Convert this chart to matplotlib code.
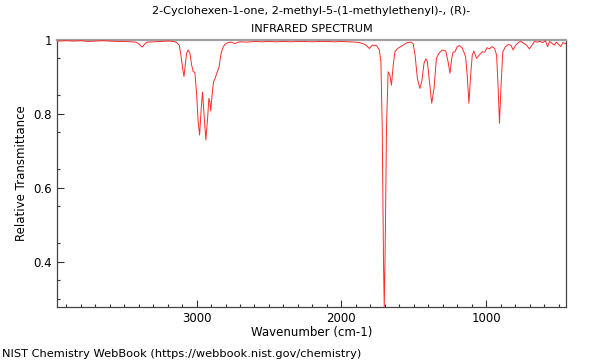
import matplotlib
matplotlib.use("Agg")
import matplotlib.pyplot as plt
from matplotlib.ticker import MultipleLocator, FixedLocator, FormatStrFormatter

title = "2-Cyclohexen-1-one, 2-methyl-5-(1-methylethenyl)-, (R)-\nINFRARED SPECTRUM"
xlabel = "Wavenumber (cm-1)"
ylabel = "Relative Transmittance"
footer = "NIST Chemistry WebBook (https://webbook.nist.gov/chemistry)"

# spectrum (wavenumber cm-1, relative transmittance)
wavenumber = [
    3965, 3900, 3850, 3800, 3750, 3700, 3650, 3600, 3550, 3500, 3450, 3420,
    3400, 3385, 3374, 3360, 3344, 3300, 3250, 3200, 3184, 3150, 3138, 3120,
    3108, 3096, 3087, 3078, 3069, 3058, 3046, 3034, 3023, 3012, 3000, 2989,
    2979, 2968, 2959, 2950, 2936, 2924, 2915, 2908, 2902, 2893, 2883, 2872,
    2858, 2844, 2833, 2821, 2805, 2783, 2759, 2736, 2714, 2690, 2650, 2600,
    2550, 2500, 2450, 2400, 2350, 2300, 2250, 2200, 2150, 2100, 2050, 2000,
    1950, 1900, 1877, 1850, 1830, 1807, 1786, 1757, 1738, 1727, 1718, 1709,
    1704, 1698, 1688, 1677, 1665, 1654, 1642, 1630, 1612, 1589, 1566, 1544,
    1520, 1504, 1491, 1475, 1458, 1445, 1429, 1417, 1406, 1394, 1376, 1360,
    1344, 1326, 1303, 1279, 1263, 1250, 1238, 1229, 1215, 1200, 1183, 1165,
    1153, 1142, 1131, 1119, 1107, 1096, 1085, 1066, 1050, 1027, 1011, 993,
    977, 959, 942, 928, 917, 908, 897, 885, 867, 844, 828, 814,
    798, 775, 759, 740, 722, 701, 683, 667, 649, 630, 608, 591,
    575, 562, 546, 529, 515, 500, 484, 470, 450,
]
transmittance = [
    0.997, 0.998, 0.997, 0.998, 0.996, 0.997, 0.998, 0.997, 0.996, 0.996, 0.995, 0.994,
    0.990, 0.984, 0.981, 0.988, 0.994, 0.995, 0.996, 0.997, 0.997, 0.995, 0.993, 0.986,
    0.959, 0.923, 0.901, 0.932, 0.964, 0.973, 0.964, 0.932, 0.914, 0.913, 0.856, 0.779,
    0.743, 0.815, 0.859, 0.806, 0.730, 0.788, 0.842, 0.833, 0.808, 0.851, 0.887, 0.896,
    0.913, 0.928, 0.959, 0.977, 0.988, 0.993, 0.994, 0.990, 0.994, 0.995, 0.994, 0.996,
    0.995, 0.996, 0.995, 0.996, 0.995, 0.996, 0.996, 0.995, 0.996, 0.996, 0.995, 0.996,
    0.995, 0.994, 0.993, 0.990, 0.986, 0.977, 0.986, 0.985, 0.973, 0.941, 0.770, 0.400,
    0.278, 0.420, 0.770, 0.914, 0.905, 0.878, 0.932, 0.968, 0.977, 0.982, 0.988, 0.993,
    0.994, 0.990, 0.959, 0.896, 0.869, 0.887, 0.937, 0.949, 0.941, 0.896, 0.829, 0.869,
    0.950, 0.964, 0.973, 0.970, 0.941, 0.910, 0.950, 0.967, 0.968, 0.982, 0.985, 0.978,
    0.966, 0.955, 0.905, 0.829, 0.905, 0.959, 0.970, 0.950, 0.958, 0.968, 0.967, 0.979,
    0.976, 0.982, 0.977, 0.959, 0.869, 0.775, 0.878, 0.968, 0.982, 0.988, 0.985, 0.973,
    0.985, 0.994, 0.996, 0.991, 0.986, 0.976, 0.986, 0.996, 0.994, 0.996, 0.993, 0.998,
    0.982, 0.996, 0.991, 0.986, 0.994, 0.988, 0.982, 0.993, 0.990,
]

y_major = [0.4, 0.6, 0.8, 1.0]
y_minor = [0.3, 0.35, 0.45, 0.55, 0.65, 0.75, 0.85, 0.95]

fig = plt.figure(figsize=(6, 3.6), dpi=100)
ax = fig.add_axes([0.095, 0.147, 0.848, 0.742])

ax.plot(wavenumber, transmittance, color="#ff2a2a", lw=0.7, zorder=3)

ax.set_xlim(3964, 450)
ax.set_ylim(0.278, 1.0)

ax.xaxis.set_major_locator(FixedLocator([3000, 2000, 1000]))
ax.xaxis.set_minor_locator(MultipleLocator(100))
ax.yaxis.set_major_locator(FixedLocator(y_major))
ax.yaxis.set_minor_locator(FixedLocator(y_minor))
ax.yaxis.set_major_formatter(FormatStrFormatter("%g"))

ax.tick_params(which="both", direction="in", top=False, right=False,
               colors="#333333", labelcolor="black", labelsize=8.5, width=0.8)
ax.tick_params(which="major", length=5)
ax.tick_params(which="minor", length=2.5)

for side in ["left", "bottom", "right"]:
    ax.spines[side].set_color("#444444")
    ax.spines[side].set_linewidth(0.9)
ax.spines["top"].set_color("#a0a0a0")
ax.spines["top"].set_linewidth(1.6)

ax.set_title(title, fontsize=8.1, linespacing=2.0, pad=5.5)
ax.set_xlabel(xlabel, fontsize=8.5, labelpad=1)
ax.set_ylabel(ylabel, fontsize=8.5, labelpad=4)

fig.text(0.003, 0.003, footer, fontsize=8.2, ha="left", va="bottom")

fig.savefig("out.png", dpi=100)
